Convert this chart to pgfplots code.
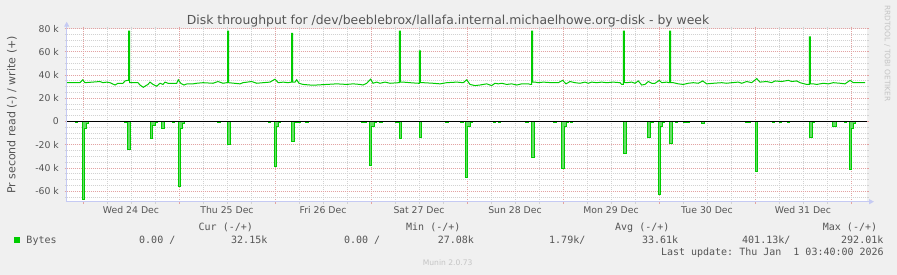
\documentclass[border=0pt]{standalone}
\usepackage{fontspec}
\setmainfont{DejaVu Sans}
\newfontfamily\monof{DejaVu Sans Mono}
\usepackage{pgfplots}
\pgfplotsset{compat=1.18}
\usetikzlibrary{arrows.meta}
\definecolor{bg}{HTML}{F0F0F0}
\definecolor{mgreen}{HTML}{00CC00}
\definecolor{lgreen}{HTML}{66DD66}
\definecolor{gridc}{HTML}{D2D2D2}
\definecolor{mgridc}{HTML}{E3A3A3}
\definecolor{axc}{HTML}{C5CAF3}
\definecolor{txt}{HTML}{555555}
\definecolor{faint}{HTML}{C4C4C4}
\frenchspacing
\begin{document}
\begin{tikzpicture}[x=1pt,y=1pt]
\fill[bg] (0pt,0pt) rectangle (897pt,275pt);
\begin{axis}[
 at={(66.7pt,73.3pt)}, anchor=south west, scale only axis,
 width=800.3pt, height=173pt,
 xmin=-16.3, xmax=784, ymin=-69, ymax=80,
 axis line style={draw=none},
 axis background/.style={fill=white},
 clip=false,
 xtick={0,96,...,768}, xticklabels={},
 minor x tick num=3,
 extra x ticks={48,144,240,336,432,528,624,720},
 extra x tick labels={Wed 24 Dec,Thu 25 Dec,Fri 26 Dec,Sat 27 Dec,Sun 28 Dec,Mon 29 Dec,Tue 30 Dec,Wed 31 Dec},
 extra x tick style={grid=none, major tick length=0pt},
 ytick={-60,-40,-20,0,20,40,60,80},
 yticklabels={-60 k,-40 k,-20 k,0,20 k,40 k,60 k,80 k},
 minor ytick={-65,-55,-50,-45,-35,-30,-25,-15,-10,-5,5,10,15,25,30,35,45,50,55,65,70,75},
 grid=both,
 major grid style={mgridc, line width=1pt, dash pattern=on 1pt off 1pt},
 minor grid style={gridc, line width=1pt, dash pattern=on 1pt off 1pt},
 tick align=outside,
 major tick length=2pt, minor tick length=2pt,
 every major tick/.append style={mgridc, line width=1pt},
 every minor tick/.append style={gridc, line width=1pt},
 ticklabel style={font=\fontsize{9.3}{11}\selectfont, text=txt},
 xticklabel style={yshift=-1.4pt},
 yticklabel style={xshift=-2.3pt},
]
% read (negative)
\addplot[draw=mgreen, fill=lgreen, line width=1pt] coordinates {
(-16.3,0)(-8,0)(-8,-1)(-5.5,-1)(-5.5,0)
(-0.5,0)(-0.5,-67)(1.3,-67)(1.3,-6)(3.5,-6)(3.5,-2)(5,-2)(5,0)
(41,0)(41,-1)(43,-1)(43,0)
(44.7,0)(44.7,-24)(47,-24)(47,0)
(67,0)(67,-14.5)(69,-14.5)(69,-3.5)(72,-3.5)(72,-1)(74,-1)(74,0)
(78.7,0)(78.7,-6.2)(81,-6.2)(81,0)
(89,0)(89,-1)(91,-1)(91,0)
(95.3,0)(95.3,-56)(97,-56)(97,-6)(99.7,-6)(99.7,-2)(101,-2)(101,0)
(134.7,0)(134.7,-1)(137,-1)(137,0)
(144.3,0)(144.3,-20)(147,-20)(147,0)
(185,0)(185,-1)(187,-1)(187,0)
(191,0)(191,-39)(193,-39)(193,-4)(195,-4)(195,-1)(197,-1)(197,0)
(208.3,0)(208.3,-17)(211,-17)(211,-1)(217,-1)(217,0)
(222,0)(222,-1)(225,-1)(225,0)
(278.7,0)(278.7,-1)(283,-1)(283,0)
(286.3,0)(286.3,-38)(288.3,-38)(288.3,-4)(291,-4)(291,-1)(293,-1)(293,0)
(296,0)(296,-1)(299,-1)(299,0)
(312.3,0)(312.3,-1)(315.3,-1)(315.3,0)
(316.3,0)(316.3,-15)(318.7,-15)(318.7,0)
(336.3,0)(336.3,-14)(338.7,-14)(338.7,0)
(362,0)(362,-1)(365,-1)(365,0)
(377,0)(377,-1)(380,-1)(380,0)
(382.7,0)(382.7,-48)(384.7,-48)(384.7,-4)(387,-4)(387,-1)(389,-1)(389,0)
(410.3,0)(410.3,-1)(412.5,-1)(412.5,0)(415,0)(415,-1)(417.7,-1)(417.7,0)
(442,0)(442,-1)(445,-1)(445,0)
(448.7,0)(448.7,-30.6)(451,-30.6)(451,0)
(470.7,0)(470.7,-1)(473.7,-1)(473.7,0)
(478.7,0)(478.7,-40)(481,-40)(481,-4)(483.7,-4)(483.7,-1)(485,-1)(485,0)
(487,0)(487,-1)(489,-1)(489,0)
(540.3,0)(540.3,-27.7)(543,-27.7)(543,0)
(564.3,0)(564.3,-14)(567,-14)(567,0)
(568,0)(568,-1)(570,-1)(570,0)
(575,0)(575,-63)(577,-63)(577,-4)(579.7,-4)(579.7,-1)(581,-1)(581,0)
(586.3,0)(586.3,-19)(589.3,-19)(589.3,0)
(592.7,0)(592.7,-1)(594.7,-1)(594.7,0)
(600,0)(600,-1)(603,-1)(603,0)
(604,0)(604,-1)(606,-1)(606,0)
(618.7,0)(618.7,-2)(621.7,-2)(621.7,0)
(662,0)(662,-1)(667,-1)(667,0)
(672.3,0)(672.3,-42.6)(674.7,-42.6)(674.7,0)
(689,0)(689,-1)(691,-1)(691,0)
(696.7,0)(696.7,-1)(698.7,-1)(698.7,0)
(704.3,0)(704.3,-1)(706.3,-1)(706.3,0)
(726.3,0)(726.3,-13.3)(729,-13.3)(729,-1)(731,-1)(731,0)
(749.7,0)(749.7,-4)(753,-4)(753,0)
(761,0)(761,-1)(763,-1)(763,0)
(766.3,0)(766.3,-41.5)(768.7,-41.5)(768.7,-6)(770.3,-6)(770.3,-2)(772,-2)(772,0)
(782,0)} \closedcycle;
% write (positive)
\addplot[mgreen, line width=1pt] coordinates {
(-16.3,33.5)(-3,33.5)(-0.3,36)(2,33.5)(17,34.5)(20,33.5)(23.7,34)(27,33.5)(32,31.5)(35,33)(40,33)(42,35)(44.5,35.5)(45.5,35.5)(45.5,78)(46.6,78)(46.6,33.5)
(55,33.5)(57,31.5)(60.3,29.5)(63,31)(65,32)(67,34)(70,32)(73.7,30.5)(77,33)(80,32)(82,34)(85,33)(93.7,33)(95.3,36)(97.7,33)(101,31.5)(104,32.5)(110,32.5)(113.7,33)(120,33.5)(130,33)(135,34.5)(140,33)(143.7,33.5)(144.5,33.5)(144.5,78)(145.6,78)(145.6,33.5)
(157,32.5)(160,33.5)(168.7,34.5)(173.7,33)(180,33.5)(187,34)(192,36.5)(195.3,33.5)(200.3,34)(205,33.5)(208.5,34)(208.5,76)(209.6,76)(209.6,34)(212,34)(213.7,36)(216,33)(220,32)(227,31.5)(233.7,31.5)(243.7,32)(253.7,32.5)(263.7,32)(270,32.5)(277,32)(280,31.5)(283.7,33)(287.7,36.5)(290,33)(293.7,34)(297,33)(302,34)(307,33)(315.5,33.5)(316.3,33.5)(316.3,78)(317.4,78)(317.4,34)
(320.3,34)(327,33.5)(335.3,33)(336.3,33)(336.3,61)(337.4,61)(337.4,33.5)(340.3,33.5)(350.3,33)(357,32.5)(363.7,33.5)(373.7,34)(380.3,33.5)(383.7,36)(387,32)(392,31)(397,31.5)(400.3,32)(403.7,32.5)(408.7,31)(412,33)(415.3,32.5)(418.7,33)(423.7,32)(428.7,32.5)(433.7,31.5)(438.7,32.5)(445.3,32.5)(447.7,32)(448.5,32)(448.5,78)(449.6,78)(449.6,34)
(452,34)(455.3,33.5)(460.3,34)(468.7,33.5)(475.3,33.5)(479.7,35.5)(483,32.5)(487,34.5)(492,33.5)(497,33)(502,34)(505.3,33)(508.7,34)(513.7,33.5)(518.7,34)(523.7,33.5)(530.3,34)(537,33.5)(538.7,32)(540.3,32)(540.3,78)(541.4,78)(541.4,33.5)
(543.7,33.5)(548.7,34)(552,33)(555.3,35)(558.7,31.5)(562,32)(565.3,34.5)(568.7,33)(572,33)(576.3,35.5)(578.7,33.5)(583.7,34)(586,33.5)(586.5,33.5)(586.5,78)(587.6,78)(587.6,33.5)
(590.3,33.5)(595.3,32.5)(600.3,32)(605.3,33)(610.3,33.5)(615.3,33)(619.7,35)(623.7,32.5)(630.3,33)(638.7,33.5)(643.7,33)(648.7,33.5)(655.3,34)(658.7,33)(663.7,34.5)(668.7,33.5)(673.7,37)(677,34)(683.7,34.5)(688.7,33.5)(692,35)(698.7,34.5)(705.3,35.5)(708.7,34.5)(713.7,35)(717,33.5)(723.7,32)(726.3,32)(726.3,73)(727.4,73)(727.4,32.5)
(730.3,32.5)(733.7,32)(740.3,33)(745.3,32.5)(750.3,33.5)(757,33)(762,32.5)(767,35.5)(770.3,33.5)(782,33.5)};
% zero line
\addplot[black, line width=1pt] coordinates {(-16.3,0)(784,0)};
% axis lines with arrows
\draw[axc, line width=1pt, -{Triangle[length=5pt,width=5pt]}] (rel axis cs:0,0) -- ([yshift=7pt]rel axis cs:0,1);
\draw[axc, line width=1pt, -{Triangle[length=5pt,width=5pt]}] ([xshift=-1pt]rel axis cs:0,0) -- ([xshift=7pt]rel axis cs:1,0);
\end{axis}
% title and labels
\node[anchor=base, text=txt, font=\fontsize{12.4}{14}\selectfont, inner sep=0pt] at (448pt,250pt) {Disk throughput for /dev/beeblebrox/lallafa.internal.michaelhowe.org-disk - by week};
\node[rotate=90, text=txt, font=\fontsize{11}{13}\selectfont, inner sep=0pt] at (12pt,160pt) {Pr second read (-) / write (+)};
\node[rotate=-90, anchor=west, text=faint, font=\fontsize{7.5}{9}\selectfont, inner sep=0pt] at (887.3pt,270pt) {RRDTOOL / TOBI OETIKER};
% legend
\begin{scope}[every node/.style={anchor=base west, inner sep=0pt, text=txt, font=\monof\fontsize{10}{12}\selectfont}]
\node at (198.5pt,44.5pt) {Cur (-/+)};
\node at (406pt,44.5pt) {Min (-/+)};
\node at (615pt,44.5pt) {Avg (-/+)};
\node at (822.7pt,44.5pt) {Max (-/+)};
\node at (26.3pt,31.2pt) {Bytes};
\node at (139pt,31.2pt) {0.00 /};
\node at (231pt,31.2pt) {32.15k};
\node at (343.8pt,31.2pt) {0.00 /};
\node at (437.6pt,31.2pt) {27.08k};
\node at (549pt,31.2pt) {1.79k/};
\node at (641.9pt,31.2pt) {33.61k};
\node at (742pt,31.2pt) {401.13k/};
\node at (841pt,31.2pt) {292.01k};
\node at (660.8pt,19.5pt) {Last update: Thu Jan~~1 03:40:00 2026};
\end{scope}
\fill[mgreen] (14.3pt,32pt) rectangle (20pt,38pt);
\node[anchor=base, inner sep=0pt, text=faint, font=\fontsize{7.6}{9}\selectfont] at (447.7pt,9pt) {Munin 2.0.73};
\pgfresetboundingbox
\path (0pt,0pt) rectangle (897pt,275pt);
\end{tikzpicture}
\end{document}
